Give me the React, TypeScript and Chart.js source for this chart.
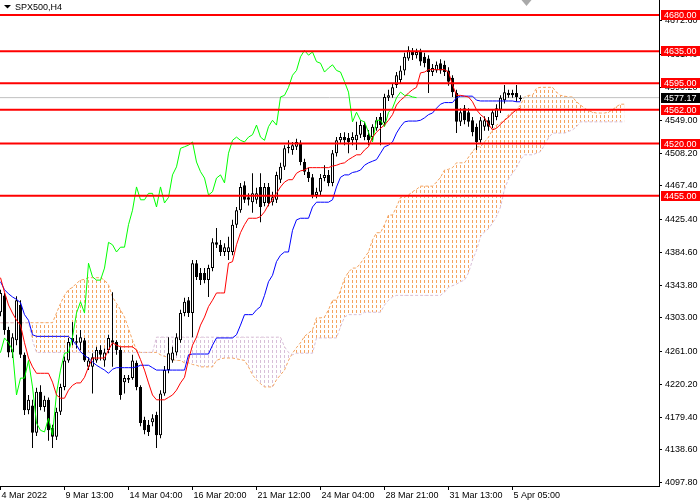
import React, { useEffect, useRef } from "react";
import { Chart, registerables } from "chart.js";

Chart.register(...registerables);

const symbolTitle = "SPX500,H4";
const xTickBars = [0, 16, 32, 48, 64, 80, 96, 112, 128];
const xTickLabels = ["4 Mar 2022", "9 Mar 13:00", "14 Mar 04:00", "16 Mar 20:00", "21 Mar 12:00", "24 Mar 04:00", "28 Mar 21:00", "31 Mar 13:00", "5 Apr 05:00"];
const yTickValues = [4097.8, 4138.6, 4179.4, 4220.2, 4261.0, 4303.0, 4343.8, 4384.6, 4425.4, 4467.4, 4508.2, 4549.0, 4590.2, 4631.4, 4672.6];
const levels = [4680, 4635, 4595, 4562, 4520, 4455];
const bidPrice = 4577.17;
const chikouShift = 26;

const opens = [
  4310, 4331, 4288, 4260, 4275, 4319, 4257, 4188, 4194, 4160,
  4211, 4192, 4201, 4166, 4155, 4186, 4217, 4250, 4278, 4274,
  4272, 4275, 4242, 4242, 4250, 4263, 4250, 4263, 4275, 4273,
  4263, 4223, 4226, 4228, 4247, 4217, 4176, 4170, 4173, 4182,
  4157, 4209, 4238, 4250, 4260, 4275, 4309, 4325, 4309, 4371,
  4359, 4359, 4350, 4365, 4397, 4394, 4385, 4385, 4385, 4419,
  4437, 4468, 4453, 4447, 4450, 4466, 4446, 4466, 4447, 4450,
  4475, 4491, 4514, 4512, 4516, 4521, 4497, 4485, 4478, 4456,
  4460, 4477, 4481, 4471, 4508, 4524, 4528, 4527, 4524, 4524,
  4531, 4543, 4531, 4528, 4539, 4553, 4546, 4577, 4580, 4593,
  4599, 4611, 4626, 4634, 4630, 4634, 4628, 4626, 4609, 4611,
  4620, 4618, 4611, 4602, 4583, 4547, 4564, 4559, 4549, 4541,
  4524, 4541, 4549, 4543, 4553, 4562, 4574, 4583, 4583, 4583,
  4575.4,
];
const highs = [
  4338, 4334, 4292, 4284, 4330, 4325, 4260, 4207, 4201, 4216,
  4219, 4206, 4204, 4170, 4191, 4221, 4255, 4278, 4298, 4282,
  4288, 4278, 4254, 4259, 4267, 4269, 4265, 4282, 4335, 4275,
  4267, 4232, 4232, 4257, 4250, 4219, 4180, 4176, 4183, 4186,
  4213, 4243, 4279, 4267, 4284, 4313, 4328, 4329, 4375, 4375,
  4365, 4365, 4369, 4402, 4415, 4400, 4396, 4404, 4425, 4441,
  4471, 4473, 4458, 4483, 4465, 4483, 4471, 4471, 4460, 4485,
  4496, 4518, 4524, 4522, 4526, 4524, 4501, 4490, 4482, 4465,
  4482, 4493, 4487, 4512, 4528, 4533, 4534, 4533, 4534, 4547,
  4549, 4547, 4537, 4544, 4553, 4558, 4582, 4587, 4595, 4609,
  4617, 4633, 4641, 4639, 4638, 4638, 4633, 4630, 4619, 4622,
  4625, 4623, 4615, 4605, 4587, 4564, 4568, 4564, 4553, 4545,
  4553, 4554, 4553, 4563, 4569, 4580, 4593, 4587, 4587, 4593,
  4580,
];
const lows = [
  4305, 4282, 4254, 4253, 4269, 4253, 4182, 4183, 4141, 4156,
  4188, 4186, 4150, 4141, 4151, 4182, 4213, 4247, 4269, 4265,
  4263, 4248, 4238, 4209, 4247, 4250, 4242, 4259, 4242, 4257,
  4201, 4209, 4222, 4226, 4213, 4168, 4158, 4156, 4168, 4141,
  4153, 4206, 4234, 4247, 4256, 4272, 4305, 4304, 4279, 4350,
  4344, 4346, 4329, 4361, 4390, 4380, 4380, 4375, 4381, 4415,
  4434, 4446, 4443, 4434, 4445, 4422, 4442, 4442, 4443, 4446,
  4471, 4487, 4508, 4506, 4512, 4493, 4481, 4472, 4452, 4452,
  4456, 4473, 4467, 4467, 4504, 4521, 4518, 4508, 4518, 4512,
  4527, 4524, 4518, 4524, 4536, 4518, 4542, 4573, 4577, 4589,
  4595, 4605, 4623, 4624, 4626, 4617, 4615, 4583, 4604, 4608,
  4607, 4604, 4592, 4578, 4533, 4542, 4544, 4541, 4529, 4512,
  4521, 4536, 4536, 4539, 4549, 4558, 4570, 4577, 4577, 4572,
  4573,
];
const closes = [
  4334, 4288, 4260, 4279, 4325, 4257, 4188, 4201, 4160, 4211,
  4192, 4201, 4163, 4155, 4186, 4217, 4250, 4273, 4274, 4272,
  4279, 4250, 4250, 4254, 4263, 4257, 4260, 4278, 4272, 4263,
  4207, 4228, 4228, 4250, 4217, 4172, 4163, 4161, 4178, 4157,
  4209, 4238, 4259, 4260, 4279, 4309, 4323, 4309, 4371, 4354,
  4350, 4350, 4365, 4397, 4394, 4385, 4391, 4391, 4419, 4437,
  4466, 4450, 4450, 4458, 4458, 4441, 4466, 4446, 4453, 4481,
  4491, 4514, 4516, 4518, 4522, 4497, 4485, 4477, 4456, 4460,
  4477, 4481, 4471, 4508, 4524, 4528, 4524, 4522, 4528, 4531,
  4543, 4528, 4524, 4541, 4549, 4543, 4578, 4580, 4590, 4605,
  4611, 4628, 4636, 4630, 4634, 4622, 4620, 4609, 4614, 4618,
  4611, 4609, 4597, 4584, 4547, 4559, 4549, 4547, 4534, 4522,
  4549, 4549, 4541, 4559, 4564, 4577, 4584, 4580, 4580, 4578,
  4577.17,
];
const tenkan = [
  4353, 4335, 4319, 4309, 4300, 4294, 4272, 4253, 4242, 4234,
  4234, 4234, 4234, 4223, 4207, 4203, 4203, 4213, 4219, 4222,
  4222, 4229, 4242, 4253, 4253, 4253, 4253, 4263, 4272, 4269,
  4267, 4267, 4267, 4267, 4263, 4251, 4238, 4222, 4207, 4201,
  4201, 4201, 4204, 4207, 4213, 4222, 4229, 4251, 4269, 4279,
  4294, 4304, 4317, 4325, 4334, 4334, 4334, 4371, 4373, 4394,
  4409, 4419, 4427, 4427, 4427, 4429, 4435, 4444, 4450, 4458,
  4466, 4472, 4475, 4475, 4483, 4486, 4487, 4490, 4490, 4490,
  4490, 4490, 4490, 4492, 4493, 4495, 4496, 4500, 4503, 4506,
  4506, 4512, 4516, 4528, 4534, 4539, 4543, 4549, 4556, 4568,
  4574, 4578, 4583, 4587, 4590, 4608, 4609, 4612, 4612, 4612,
  4612, 4612, 4609, 4593, 4580, 4580, 4579, 4578, 4572, 4562,
  4556, 4552, 4544, 4537, 4539, 4544, 4549, 4553, 4558, 4562,
  4564,
];
const kijun = [
  4348, 4338, 4333, 4329, 4326, 4322, 4307, 4300, 4282, 4280,
  4280, 4280, 4280, 4280, 4280, 4280, 4280, 4280, 4275, 4269,
  4261, 4256, 4253, 4248, 4244, 4241, 4238, 4234, 4239, 4241,
  4241, 4241, 4241, 4241, 4242, 4244, 4244, 4244, 4241, 4238,
  4238, 4238, 4238, 4238, 4238, 4238, 4238, 4257, 4258, 4258,
  4258, 4258, 4258, 4269, 4278, 4278, 4278, 4278, 4278, 4282,
  4294, 4307, 4307, 4307, 4313, 4317, 4331, 4348, 4356, 4373,
  4381, 4385, 4385, 4412, 4425, 4427, 4427, 4427, 4441, 4447,
  4447, 4447, 4447, 4450, 4466, 4478, 4481, 4481, 4484, 4485,
  4487, 4493, 4496, 4498, 4500, 4508, 4516, 4518, 4522, 4533,
  4541, 4547, 4548, 4548, 4548, 4549, 4552, 4556, 4558, 4564,
  4569, 4571, 4571, 4571, 4577, 4579, 4579, 4579, 4579, 4574,
  4573, 4573, 4573, 4573, 4573, 4573, 4573, 4573, 4573, 4572,
  4572,
];
const spanA = [
  4297, 4297, 4297, 4297, 4297, 4297, 4297, 4297, 4297, 4297,
  4297, 4297, 4297, 4297, 4309, 4321, 4331, 4338, 4341, 4346,
  4350, 4351, 4353, 4353, 4353, 4353, 4350, 4344, 4329, 4321,
  4313, 4304, 4290, 4275, 4263, 4260, 4260, 4260, 4260, 4260,
  4257, 4255, 4254, 4251, 4250, 4250, 4247, 4247, 4245, 4244,
  4242, 4242, 4242, 4242, 4250, 4252, 4253, 4253, 4253, 4252,
  4251, 4250, 4242, 4232, 4226, 4221, 4217, 4217, 4217, 4226,
  4232, 4238, 4250, 4259, 4266, 4272, 4280, 4284, 4288, 4303,
  4303, 4304, 4313, 4325, 4325, 4337, 4352, 4360, 4365, 4365,
  4371, 4378, 4385, 4400, 4409, 4409, 4419, 4431, 4431, 4441,
  4453, 4453, 4456, 4460, 4463, 4467, 4467, 4467, 4467, 4472,
  4478, 4487, 4488, 4490, 4496, 4496, 4496, 4503, 4510, 4516,
  4516, 4522, 4528, 4537, 4543, 4546, 4549, 4556, 4559, 4562,
  4568, 4578, 4580, 4580, 4589, 4590, 4590, 4590, 4590, 4584,
  4580, 4579, 4578, 4578, 4572, 4568, 4564, 4561, 4559, 4558,
  4558, 4558, 4559, 4562, 4566, 4569, 4569,
];
const spanB = [
  4297, 4297, 4297, 4297, 4297, 4297, 4297, 4297, 4275, 4260,
  4260, 4260, 4260, 4260, 4260, 4260, 4260, 4260, 4260, 4260,
  4260, 4260, 4260, 4260, 4260, 4260, 4260, 4260, 4260, 4260,
  4260, 4260, 4260, 4260, 4260, 4260, 4260, 4260, 4260, 4279,
  4279, 4279, 4279, 4279, 4279, 4279, 4279, 4279, 4279, 4279,
  4279, 4279, 4279, 4279, 4279, 4279, 4279, 4279, 4279, 4279,
  4279, 4279, 4279, 4279, 4279, 4279, 4279, 4279, 4279, 4279,
  4279, 4267, 4260, 4257, 4259, 4259, 4259, 4259, 4259, 4278,
  4278, 4278, 4278, 4278, 4278, 4292, 4304, 4307, 4307, 4307,
  4307, 4310, 4310, 4310, 4310, 4310, 4319, 4325, 4329, 4331,
  4331, 4331, 4331, 4331, 4331, 4331, 4331, 4331, 4331, 4331,
  4331, 4335, 4341, 4343, 4345, 4348, 4350, 4359, 4375, 4387,
  4404, 4410, 4414, 4421, 4429, 4441, 4463, 4476, 4483, 4490,
  4500, 4506, 4506, 4506, 4508, 4510, 4518, 4527, 4533, 4533,
  4533, 4533, 4535, 4537, 4541, 4547, 4547, 4547, 4547, 4547,
  4547, 4547, 4547, 4547, 4547, 4547, 4547,
];

const X_MIN = -0.125;
const X_MAX = 164.625;
const Y_MIN = 4093.7;
const Y_MAX = 4698.7;
const FONT = "'Liberation Sans', Arial, sans-serif";

function makePattern(color: string): CanvasPattern | string {
  const c = document.createElement("canvas");
  c.width = 4;
  c.height = 5;
  const g = c.getContext("2d");
  if (!g) return color;
  g.fillStyle = color;
  g.fillRect(0, 0, 1, 3);
  return g.createPattern(c, "repeat") || color;
}

const decorPlugin = {
  id: "mt4decor",
  afterDraw(chart: any) {
    const { ctx, chartArea, scales } = chart;
    const y = scales.y;
    const x = scales.x;
    ctx.save();
    ctx.font = `9px ${FONT}`;
    ctx.textBaseline = "middle";
    ctx.textAlign = "left";
    const tag = (value: number, bg: string) => {
      const py = Math.round(y.getPixelForValue(value));
      ctx.fillStyle = bg;
      ctx.fillRect(chartArea.right + 2, py - 5, chart.width - chartArea.right - 2, 10);
      ctx.fillStyle = "#ffffff";
      ctx.fillText(value.toFixed(2), chartArea.right + 5, py + 0.5);
    };
    levels.forEach((l) => tag(l, "#ff0000"));
    tag(bidPrice, "#000000");

    // title
    ctx.fillStyle = "#000000";
    ctx.beginPath();
    ctx.moveTo(4, 5);
    ctx.lineTo(11, 5);
    ctx.lineTo(7.5, 8.5);
    ctx.closePath();
    ctx.fill();
    ctx.fillText(symbolTitle, 15, 7.5);

    // chart shift marker
    const sx = x.getPixelForValue(closes.length + 0.5);
    ctx.fillStyle = "#a9a9a9";
    ctx.beginPath();
    ctx.moveTo(sx - 5, 0);
    ctx.lineTo(sx + 5, 0);
    ctx.lineTo(sx, 6);
    ctx.closePath();
    ctx.fill();
    ctx.restore();
  },
};

export default function App() {
  const ref = useRef<HTMLCanvasElement | null>(null);
  useEffect(() => {
    const canvas = ref.current;
    if (!canvas) return;
    const orangePat = makePattern("#F4A460");
    const thistlePat = makePattern("#D8BFD8");
    const idx = closes.map((_, i) => i);

    const lineBase = { type: "line", pointRadius: 0, borderWidth: 1, tension: 0, fill: false };
    const levelSets = levels.map((l) => ({
      ...lineBase,
      data: [{ x: X_MIN, y: l }, { x: X_MAX, y: l }],
      borderColor: "#ff0000",
      borderWidth: 2,
      clip: 0,
      order: 1,
    }));

    const chart = new Chart(canvas, {
      type: "line",
      data: {
        datasets: [
          {
            ...lineBase,
            data: spanA.map((v, i) => ({ x: i, y: v })),
            borderColor: "#F4A460",
            borderDash: [3, 2],
            fill: { target: "+1", above: orangePat, below: thistlePat },
            order: 11,
          },
          {
            ...lineBase,
            data: spanB.map((v, i) => ({ x: i, y: v })),
            borderColor: "#D8BFD8",
            borderDash: [3, 2],
            order: 10,
          },
          {
            ...lineBase,
            data: [{ x: X_MIN, y: bidPrice }, { x: X_MAX, y: bidPrice }],
            borderColor: "#c0c0c0",
            clip: 0,
            order: 9,
          },
          {
            type: "bar",
            data: idx.map((i) => ({ x: i, y: [lows[i], highs[i]] })),
            backgroundColor: "#000000",
            barThickness: 1,
            grouped: false,
            inflateAmount: 0,
            borderWidth: 0,
            order: 7,
          },
          {
            type: "bar",
            data: idx.map((i) => ({ x: i, y: [opens[i], closes[i]] })),
            backgroundColor: idx.map((i) => (closes[i] >= opens[i] ? "#ffffff" : "#000000")),
            borderColor: "#000000",
            borderWidth: 1,
            borderSkipped: false,
            barThickness: 3,
            grouped: false,
            inflateAmount: 0,
            order: 6,
          },
          {
            ...lineBase,
            data: closes.map((v, i) => ({ x: i - chikouShift, y: v })),
            borderColor: "#00ff00",
            order: 4,
          },
          {
            ...lineBase,
            data: kijun.map((v, i) => ({ x: i, y: v })),
            borderColor: "#0000ff",
            order: 3,
          },
          {
            ...lineBase,
            data: tenkan.map((v, i) => ({ x: i, y: v })),
            borderColor: "#ff0000",
            order: 2,
          },
          ...levelSets,
        ] as any,
      },
      options: {
        animation: false,
        responsive: false,
        devicePixelRatio: 1,
        layout: { padding: 0 },
        plugins: { legend: { display: false }, tooltip: { enabled: false }, title: { display: false } },
        events: [],
        scales: {
          x: {
            type: "linear",
            min: X_MIN,
            max: X_MAX,
            offset: false,
            bounds: "data",
            grid: { display: true, drawOnChartArea: false, drawTicks: true, tickLength: 4, color: "#000000", offset: false },
            border: { display: true, color: "#000000", width: 1 },
            ticks: {
              autoSkip: false,
              maxRotation: 0,
              minRotation: 0,
              align: "start",
              labelOffset: 1,
              padding: 0,
              color: "#000000",
              font: { family: FONT, size: 9 },
              callback: (_v: any, i: number) => xTickLabels[i],
            },
            afterBuildTicks: (s: any) => {
              s.ticks = xTickBars.map((v) => ({ value: v }));
            },
            afterFit: (s: any) => {
              s.height = 14;
              s.paddingLeft = 0;
              s.paddingRight = 0;
            },
          },
          y: {
            type: "linear",
            position: "right",
            min: Y_MIN,
            max: Y_MAX,
            beginAtZero: false,
            bounds: "data",
            grid: { display: true, drawOnChartArea: false, drawTicks: true, tickLength: 3, color: "#000000" },
            border: { display: true, color: "#000000", width: 1 },
            ticks: {
              autoSkip: false,
              padding: 3,
              color: "#000000",
              font: { family: FONT, size: 9 },
              callback: (v: any) => Number(v).toFixed(2),
            },
            afterBuildTicks: (s: any) => {
              s.ticks = yTickValues.map((v) => ({ value: v }));
            },
            afterFit: (s: any) => {
              s.width = 41;
              s.paddingTop = 0;
              s.paddingBottom = 0;
            },
          },
        },
      } as any,
      plugins: [decorPlugin],
    } as any);
    return () => chart.destroy();
  }, []);

  return (
    <div style={{ position: "fixed", left: 0, top: 0, width: 700, height: 500, background: "#ffffff" }}>
      <canvas ref={ref} width={700} height={500} style={{ display: "block", width: 700, height: 500 }} />
    </div>
  );
}
